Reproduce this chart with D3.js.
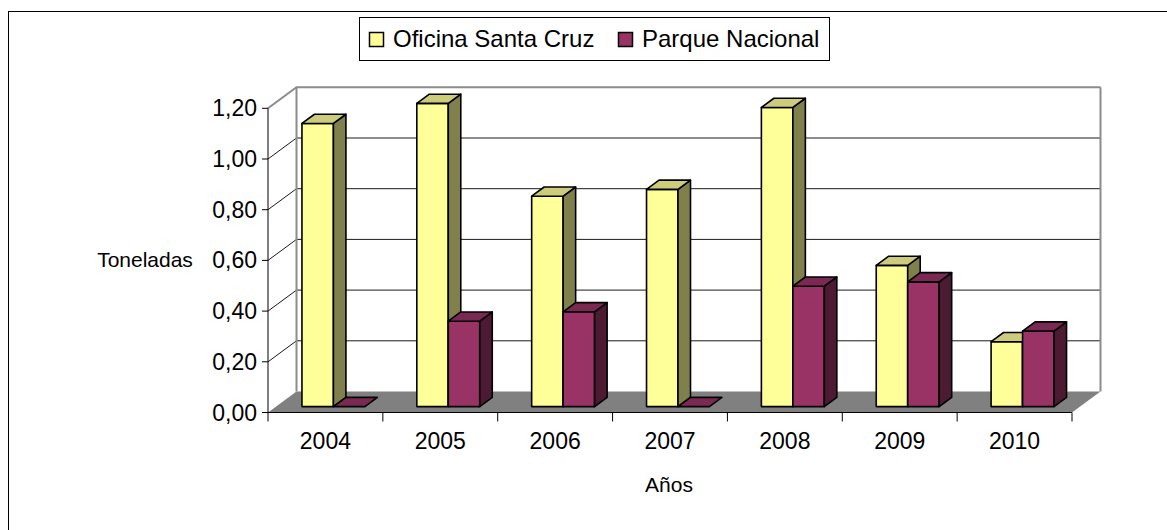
<!DOCTYPE html>
<html>
<head>
<meta charset="utf-8">
<script src="https://cdn.jsdelivr.net/npm/d3@7"></script>
<style>
  body { margin: 0; background: #fff; }
  text { font-family: "Liberation Sans", Arial, sans-serif; fill: #000; }
</style>
</head>
<body>
<div id="chart"></div>
<script>
// data
var years = ["2004", "2005", "2006", "2007", "2008", "2009", "2010"];
var seriesNames = ["Oficina Santa Cruz", "Parque Nacional"];
var oficina = [1.117, 1.196, 0.830, 0.857, 1.180, 0.557, 0.256];
var parque = [0, 0.337, 0.374, 0, 0.475, 0.492, 0.298];
var yTicks = [0, 0.2, 0.4, 0.6, 0.8, 1.0, 1.2];

var width = 1167, height = 530;

// colours: front, top, side
var colors = [
  { front: "#FFFF99", top: "#CCCC7A", side: "#80804D" },
  { front: "#993366", top: "#7A2952", side: "#4D1A33" }
];

var svg = d3.select("#chart").append("svg")
  .attr("width", width)
  .attr("height", height);

// outer frame (only left and top edges are in view)
svg.append("rect")
  .attr("x", 8.5).attr("y", 11.5)
  .attr("width", 1200).attr("height", 600)
  .attr("fill", "none").attr("stroke", "#000").attr("stroke-width", 1);

var plot = { left: 268, right: 1072 };
var depth = { dx: 28.5, dy: -21 };

var y = d3.scaleLinear().domain([0, 1.2]).range([412.5, 108.3]);
var x = d3.scaleBand().domain(years).range([plot.left, plot.right]);
var xs = d3.scaleBand().domain(seriesNames)
  .range([x.bandwidth() * 0.226, x.bandwidth() * 0.774]);

var locale = d3.formatLocale({ decimal: ",", thousands: ".", grouping: [3], currency: ["", ""] });
var fmt = locale.format(".2f");

var backLeft = plot.left + depth.dx, backRight = plot.right + depth.dx;

// floor
svg.append("path")
  .attr("d", "M" + plot.left + "," + y(0) + "L" + plot.right + "," + y(0) +
    "L" + backRight + "," + (y(0) + depth.dy) + "L" + backLeft + "," + (y(0) + depth.dy) + "Z")
  .attr("fill", "#808080");

// gridlines (side wall diagonal + back wall horizontal)
yTicks.filter(function(d) { return d > 0; }).forEach(function(v) {
  var top = v === 1.2;
  svg.append("path")
    .attr("d", "M" + plot.left + "," + y(v) + "L" + backLeft + "," + (y(v) + depth.dy) +
      "L" + backRight + "," + (y(v) + depth.dy))
    .attr("fill", "none")
    .attr("stroke", top ? "#8c8c8c" : "#1a1a1a")
    .attr("stroke-width", top ? 2 : 1);
});

// back wall vertical edges
[backLeft, backRight].forEach(function(bx) {
  svg.append("line")
    .attr("x1", bx).attr("x2", bx)
    .attr("y1", y(1.2) + depth.dy).attr("y2", y(0) + depth.dy)
    .attr("stroke", "#8c8c8c").attr("stroke-width", 2);
});

// bars
var f = 8 / 28.5, bd = 12.5 / 28.5;
var fx = depth.dx * f, fy = depth.dy * f;
var ddx = depth.dx * bd, ddy = depth.dy * bd;

var barData = [];
years.forEach(function(yr, i) {
  [oficina[i], parque[i]].forEach(function(v, s) {
    barData.push({ year: yr, value: v, s: s });
  });
});

var bars = svg.selectAll(".bar").data(barData).enter().append("g").attr("class", "bar");

function pts(p) { return p.map(function(q) { return q.join(","); }).join(" "); }

bars.each(function(d) {
  var g = d3.select(this);
  var bx = x(d.year) + xs(seriesNames[d.s]) + fx;
  var w = xs.bandwidth();
  var yt = y(d.value) + fy, yb = y(0) + fy;
  var c = colors[d.s];
  if (d.value > 0) {
    g.append("polygon")
      .attr("points", pts([[bx, yt], [bx + w, yt], [bx + w, yb], [bx, yb]]))
      .attr("fill", c.front);
    g.append("polygon")
      .attr("points", pts([[bx + w, yt], [bx + w + ddx, yt + ddy], [bx + w + ddx, yb + ddy], [bx + w, yb]]))
      .attr("fill", c.side);
  }
  g.append("polygon")
    .attr("points", pts([[bx, yt], [bx + w, yt], [bx + w + ddx, yt + ddy], [bx + ddx, yt + ddy]]))
    .attr("fill", c.top);
  g.selectAll("polygon")
    .attr("stroke", "#000").attr("stroke-width", 1.6).attr("stroke-linejoin", "round");
});

// y axis
svg.append("line")
  .attr("x1", plot.left).attr("x2", plot.left)
  .attr("y1", y(1.2)).attr("y2", y(0))
  .attr("stroke", "#000").attr("stroke-width", 1);

var yAxis = svg.append("g");
yAxis.selectAll("line").data(yTicks).enter().append("line")
  .attr("x1", plot.left - 6).attr("x2", plot.left)
  .attr("y1", function(d) { return y(d); }).attr("y2", function(d) { return y(d); })
  .attr("stroke", "#000");
yAxis.selectAll("text").data(yTicks).enter().append("text")
  .attr("x", 257)
  .attr("y", function(d) { return y(d) + 8; })
  .attr("text-anchor", "end")
  .style("font-size", "23px")
  .text(function(d) { return fmt(d); });

// x axis
svg.append("line")
  .attr("x1", plot.left).attr("x2", plot.right)
  .attr("y1", y(0)).attr("y2", y(0))
  .attr("stroke", "#000").attr("stroke-width", 1);

var xAxis = svg.append("g");
xAxis.selectAll("line").data(years.concat(["end"])).enter().append("line")
  .attr("x1", function(d, i) { return plot.left + i * x.step(); })
  .attr("x2", function(d, i) { return plot.left + i * x.step(); })
  .attr("y1", y(0)).attr("y2", y(0) + 9)
  .attr("stroke", "#000");
xAxis.selectAll("text").data(years).enter().append("text")
  .attr("x", function(d) { return x(d) + x.bandwidth() / 2; })
  .attr("y", 449)
  .attr("text-anchor", "middle")
  .style("font-size", "23px")
  .text(function(d) { return d; });

// axis titles
svg.append("text")
  .attr("x", 145).attr("y", 267)
  .attr("text-anchor", "middle")
  .style("font-size", "21px")
  .text("Toneladas");
svg.append("text")
  .attr("x", 669).attr("y", 492)
  .attr("text-anchor", "middle")
  .style("font-size", "21px")
  .text("Años");

// legend
var legend = svg.append("g");
legend.append("rect")
  .attr("x", 359.5).attr("y", 17.5)
  .attr("width", 470).attr("height", 43)
  .attr("fill", "#fff").attr("stroke", "#000");
var legX = [369, 618];
seriesNames.forEach(function(name, i) {
  legend.append("rect")
    .attr("x", legX[i] + 0.5).attr("y", 32.5)
    .attr("width", 14).attr("height", 14)
    .attr("fill", colors[i].front).attr("stroke", "#000").attr("stroke-width", 1.5);
  legend.append("text")
    .attr("x", legX[i] + 24).attr("y", 47)
    .style("font-size", "24px")
    .text(name);
});
</script>
</body>
</html>
